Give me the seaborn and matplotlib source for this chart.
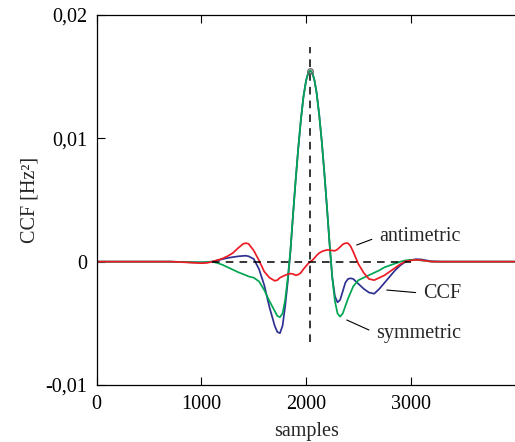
import pandas as pd
import matplotlib
matplotlib.use("Agg")
import matplotlib.pyplot as plt
import seaborn as sns

# sample grid (x) and the three curves
samples = [0, 600, 700, 800, 900, 1000, 1050, 1100, 1150, 1200,
           1250, 1300, 1350, 1400, 1425, 1450, 1500, 1550, 1600, 1650,
           1700, 1725, 1750, 1775, 1800, 1825, 1850, 1875, 1900, 1925,
           1950, 1975, 2000, 2020, 2040, 2060, 2080, 2100, 2125, 2150,
           2175, 2200, 2225, 2250, 2275, 2300, 2325, 2350, 2375, 2400,
           2425, 2450, 2500, 2550, 2600, 2650, 2700, 2750, 2800, 2850,
           2900, 2950, 3000, 3050, 3100, 3150, 3200, 3300, 4000]

ccf = [0, 0, 0, -0.00002, -0.00005, -0.00007, -0.00005, 0.0, 0.0001, 0.0002,
       0.0003, 0.00037, 0.00043, 0.00047, 0.00048, 0.00044, 0.00022, -0.0006, -0.0019, -0.0037,
       -0.0052, -0.0057, -0.0058, -0.0052, -0.0036, -0.0016, 0.0008, 0.0038, 0.0066, 0.0092,
       0.0115, 0.0134, 0.0147, 0.0153, 0.0155, 0.0153, 0.0147, 0.0137, 0.0119, 0.0097,
       0.0071, 0.0043, 0.0013, -0.0013, -0.0028, -0.0033, -0.0031, -0.0024, -0.0017, -0.0014,
       -0.00135, -0.0014, -0.0018, -0.0022, -0.0025, -0.0026, -0.0022, -0.0017, -0.0012, -0.0007,
       -0.0003, 0.0, 0.00012, 0.0002, 0.00018, 0.0001, 0.00003, 0, 0]

symmetric = [0, 0, 0, -0.00002, -0.00004, -0.00005, -0.00003, 0.0, -0.0001, -0.00025,
             -0.00045, -0.00065, -0.00085, -0.00102, -0.0011, -0.0012, -0.0013, -0.0016, -0.0023, -0.0032,
             -0.0040, -0.0044, -0.0045, -0.0042, -0.0031, -0.0013, 0.0009, 0.0038, 0.0066, 0.0092,
             0.0115, 0.0134, 0.0147, 0.0153, 0.0155, 0.0153, 0.0147, 0.0137, 0.0119, 0.0097,
             0.0071, 0.0043, 0.0014, -0.0013, -0.0032, -0.0042, -0.00446, -0.0042, -0.0036, -0.0030,
             -0.0025, -0.0020, -0.0015, -0.0013, -0.0011, -0.0009, -0.0007, -0.00045, -0.0003, -0.00015,
             0.0, 0.0001, 0.00015, 0.00015, 0.0001, 0.00005, 0.0, 0, 0]

antimetric = [0, 0, 0, -0.00003, -0.00008, -0.00012, -0.0001, -0.00002, 0.00012, 0.00025,
              0.00045, 0.0007, 0.0011, 0.00145, 0.0015, 0.00145, 0.0009, 0.0001, -0.0008, -0.0013,
              -0.00155, -0.0015, -0.0013, -0.0012, -0.0011, -0.00102, -0.00097, -0.001, -0.0011, -0.00105,
              -0.0009, -0.0006, -0.00035, -0.00015, 0.0, 0.00012, 0.0003, 0.0005, 0.0007, 0.00082,
              0.0009, 0.00095, 0.00094, 0.0009, 0.00088, 0.001, 0.0012, 0.0014, 0.0015, 0.0015,
              0.00125, 0.0008, -0.0002, -0.0009, -0.0014, -0.0015, -0.0013, -0.0011, -0.0008, -0.0005,
              -0.0002, 0.00003, 0.0001, 0.00015, 0.00012, 0.00006, 0.0, 0, 0]

peak_sample = 2040
peak_value = 0.0155

yticks = [-0.01, 0, 0.01, 0.02]
ytick_labels = ["-0,01", "0", "0,01", "0,02"]
xticks = [0, 1000, 2000, 3000]

df = pd.DataFrame({"samples": samples, "CCF": ccf,
                   "symmetric": symmetric, "antimetric": antimetric})

sns.set_style("ticks")
plt.rcParams["font.family"] = ["Liberation Serif", "DejaVu Serif"]
plt.rcParams["font.size"] = 14.5

fig = plt.figure(figsize=(5.15, 4.42), dpi=100)
ax = fig.add_axes([0.1878, 0.129, 0.8132, 0.837])

sns.lineplot(data=df, x="samples", y="CCF", color="#2e3192", lw=1.25, estimator=None, ax=ax)
sns.lineplot(data=df, x="samples", y="symmetric", color="#00a651", lw=1.25, estimator=None, ax=ax)
sns.lineplot(data=df, x="samples", y="antimetric", color="#ed1c24", lw=1.25, estimator=None, ax=ax)

# reference lines
ax.plot([peak_sample, peak_sample], [-0.0065, 0.0174], color="black", lw=1.1, ls=(0, (5, 4)))
ax.plot([1100, 3000], [0, 0], color="black", lw=1.1, ls=(0, (5, 4)))
ax.plot([peak_sample], [peak_value], marker="o", ms=4, mfc="none", mec="0.4", mew=0.9)

# labels with leader lines
arrow = dict(arrowstyle="-", color="black", lw=0.8, relpos=(0, 0.5), shrinkA=3, shrinkB=0)
ax.annotate("antimetric", xy=(2483, 0.00135), xytext=(2696, 0.00203),
            ha="left", va="center", arrowprops=arrow)
ax.annotate("CCF", xy=(2770, -0.0023), xytext=(3117, -0.00256),
            ha="left", va="center", arrowprops=arrow)
ax.annotate("symmetric", xy=(2388, -0.00473), xytext=(2668, -0.0058),
            ha="left", va="center", arrowprops=arrow)

ax.set_xlim(0, 4000)
ax.set_ylim(-0.01, 0.02)
ax.set_xticks(xticks)
ax.set_xticklabels([str(v) for v in xticks])
ax.set_yticks(yticks)
ax.set_yticklabels(ytick_labels)
ax.set_xlabel("samples", labelpad=6)
ax.set_ylabel("CCF [Hz²]", labelpad=4)

ax.tick_params(direction="in", length=6, width=0.8, top=True, right=False, pad=7, colors="black")
ax.spines["right"].set_visible(False)
for s in ["left", "bottom", "top"]:
    ax.spines[s].set_linewidth(0.9)
    ax.spines[s].set_color("black")

fig.savefig("out.png", dpi=100)
